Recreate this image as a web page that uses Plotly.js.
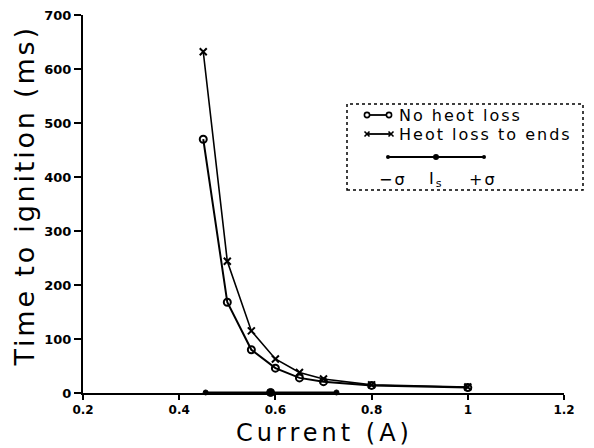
<!DOCTYPE html>
<html><head><meta charset="utf-8">
<script src="https://cdn.plot.ly/plotly-3.0.1.min.js"></script>
<style>
body{margin:0;background:#fff}
text.annotation-text{letter-spacing:2px}
g.annotation[data-index="5"] text.annotation-text{letter-spacing:2.8px}
g.annotation[data-index="6"] text.annotation-text{letter-spacing:4px}
</style>
</head><body>
<div id="chart" style="width:594px;height:448px"></div>
<script>
// Data
const current = [0.45, 0.5, 0.55, 0.6, 0.65, 0.7, 0.8, 1.0];
const noHeatLoss = [470, 168, 80, 46, 28, 21, 14, 10];
const heatLossEnds = [632, 244, 115, 63, 38, 26, 15, 11];
const sigmaX = [0.455, 0.59, 0.727];   // -sigma, I_s, +sigma
const sigmaY = [1, 1, 1];
const xTicks = [0.2, 0.4, 0.6, 0.8, 1.0, 1.2];
const xTickText = ['0.2', '0.4', '0.6', '0.8', '1', '1.2'];
const yTicks = [0, 100, 200, 300, 400, 500, 600, 700];

const L = 83, R = 30, T = 15, B = 55, W = 594, H = 448;
const FONT = 'DejaVu Sans, sans-serif';

const traces = [
  {x: sigmaX, y: sigmaY, mode: 'lines+markers', cliponaxis: false, type: 'scatter',
   line: {color: 'rgb(0,0,0)', width: 1.8},
   marker: {symbol: 'circle', size: [5, 8, 5], color: 'rgb(0,0,0)', opacity: 1,
            line: {color: 'rgb(0,0,0)', width: 1}}},
  {x: current, y: noHeatLoss, mode: 'lines+markers', name: 'No heot loss',
   line: {color: '#000', width: 2}, cliponaxis: false,
   marker: {symbol: 'circle-open', size: 7, color: '#000', line: {width: 2, color: '#000'}}},
  {x: current, y: heatLossEnds, mode: 'lines+markers', name: 'Heot loss to ends',
   line: {color: '#000', width: 1.6}, cliponaxis: false,
   marker: {symbol: 'x-thin-open', size: 7, color: '#000', line: {width: 2, color: '#000'}}}
];

// pixel -> paper helpers (for legend decoration only)
const px = v => (v - L) / (W - L - R);
const py = v => (H - B - v) / (H - T - B);
const seg = (x0, y0, x1, y1, w) => ({type: 'line', xref: 'paper', yref: 'paper',
  x0: px(x0), y0: py(y0), x1: px(x1), y1: py(y1), line: {color: '#000', width: w || 1.8}});
const ring = (cx, cy, r) => ({type: 'circle', xref: 'paper', yref: 'paper',
  x0: px(cx - r), x1: px(cx + r), y0: py(cy + r), y1: py(cy - r),
  fillcolor: '#fff', line: {color: '#000', width: 1.6}});
const dot = (cx, cy, r) => ({type: 'circle', xref: 'paper', yref: 'paper',
  x0: px(cx - r), x1: px(cx + r), y0: py(cy + r), y1: py(cy - r),
  fillcolor: '#000', line: {color: '#000', width: 0}});
const cross = (cx, cy, r) => [seg(cx - r, cy - r, cx + r, cy + r, 1.6), seg(cx - r, cy + r, cx + r, cy - r, 1.6)];

const legendText = (x, y, t, size) => ({
  x: px(x), y: py(y), xref: 'paper', yref: 'paper', text: t, showarrow: false,
  xanchor: 'left', yanchor: 'middle', borderpad: 0,
  font: {family: FONT, size: size || 16, color: '#000'}
});

const layout = {
  width: W, height: H,
  margin: {l: L, r: R, t: T, b: B},
  paper_bgcolor: '#fff', plot_bgcolor: '#fff',
  showlegend: false,
  font: {family: FONT, color: '#000'},
  xaxis: {
    range: [0.2, 1.2], tickvals: xTicks, ticktext: xTickText,
    showline: true, linecolor: '#000', linewidth: 2, layer: 'below traces',
    ticks: 'outside', ticklen: 5, tickwidth: 2, tickcolor: '#000',
    showgrid: false, zeroline: false,
    tickfont: {family: FONT, size: 12, color: '#000', weight: 'bold'}
  },
  yaxis: {
    range: [0, 700], tickvals: yTicks,
    showline: true, linecolor: '#000', linewidth: 2, layer: 'below traces',
    ticks: 'outside', ticklen: 7, tickwidth: 2, tickcolor: '#000',
    showgrid: false, zeroline: false,
    tickfont: {family: FONT, size: 13, color: '#000', weight: 'bold'}
  },
  shapes: [
    {type: 'rect', xref: 'paper', yref: 'paper', x0: px(347), x1: px(583), y0: py(190), y1: py(104),
     line: {color: '#000', width: 1.5, dash: 'dot'}},
    seg(367, 115, 389, 115), ring(367, 115, 2.6), ring(389, 115, 2.6),
    seg(367, 134, 391, 134), ...cross(367, 134, 2.5), ...cross(391, 134, 2.5),
    seg(388, 157, 484, 157), dot(388, 157, 2), dot(436, 157, 3), dot(484, 157, 2)
  ],
  annotations: [
    legendText(398, 115, 'No heot loss'),
    legendText(398, 134, 'Heot loss to ends'),
    legendText(378, 179, '−σ'),
    legendText(428, 179, 'I<sub>s</sub>'),
    legendText(468, 179, '+σ'),
    {x: px(24), y: py(196), xref: 'paper', yref: 'paper', text: 'Time to ignition (ms)',
     textangle: -90, showarrow: false, xanchor: 'center', yanchor: 'middle', borderpad: 0,
     font: {family: FONT, size: 27, color: '#000'}},
    {x: px(324), y: py(433), xref: 'paper', yref: 'paper', text: 'Current (A)',
     showarrow: false, xanchor: 'center', yanchor: 'middle', borderpad: 0,
     font: {family: FONT, size: 24, color: '#000'}}
  ]
};

Plotly.newPlot('chart', traces, layout, {staticPlot: true, displayModeBar: false});
</script>
</body></html>
